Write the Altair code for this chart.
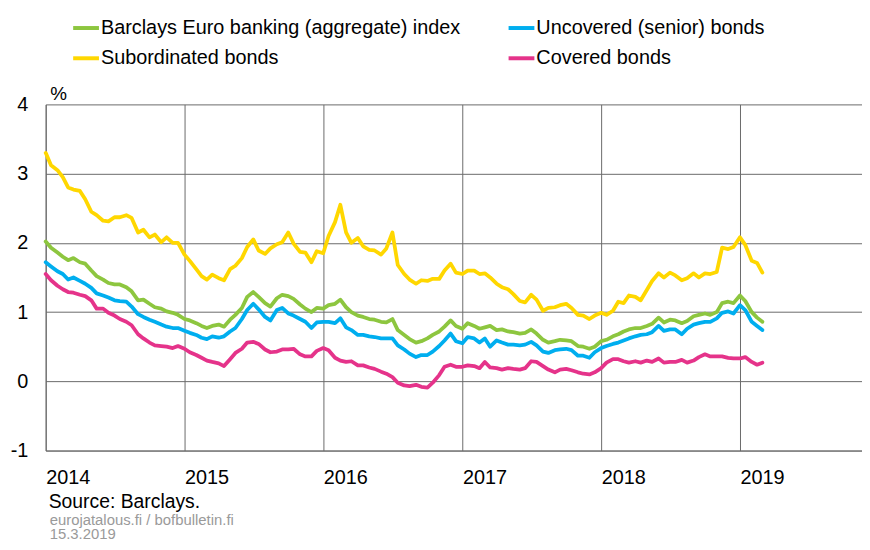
import altair as alt
import pandas as pd

# semi-monthly observation dates (1st and 15th of each month), Jan 2014 .. Mar 2019
dates = pd.date_range("2014-01-01", "2019-03-01", freq="SMS")

# legend is laid out column by column: column 1 = first two, column 2 = last two
series_names = [
    "Barclays Euro banking (aggregate) index",
    "Subordinated bonds",
    "Uncovered (senior) bonds",
    "Covered bonds",
]
series_colors = ["#8DC63F", "#FFD700", "#00AEEF", "#E5338A"]

aggregate = [
    2.02, 1.93, 1.86, 1.80, 1.75, 1.78, 1.72, 1.70, 1.60, 1.52, 1.47, 1.42,
    1.40, 1.40, 1.36, 1.30, 1.17, 1.18, 1.12, 1.07, 1.05, 1.01, 0.99, 0.96,
    0.90, 0.88, 0.84, 0.80, 0.77, 0.80, 0.82, 0.79, 0.89, 0.96, 1.06, 1.22,
    1.29, 1.22, 1.13, 1.08, 1.20, 1.25, 1.23, 1.19, 1.11, 1.05, 1.00, 1.06,
    1.05, 1.10, 1.12, 1.18, 1.07, 1.00, 0.95, 0.93, 0.90, 0.89, 0.86, 0.85,
    0.90, 0.74, 0.67, 0.61, 0.56, 0.58, 0.62, 0.67, 0.72, 0.79, 0.88, 0.80,
    0.76, 0.84, 0.80, 0.76, 0.78, 0.80, 0.74, 0.75, 0.72, 0.71, 0.69, 0.70,
    0.75, 0.69, 0.60, 0.56, 0.58, 0.60, 0.59, 0.58, 0.51, 0.50, 0.47, 0.50,
    0.58, 0.60, 0.65, 0.68, 0.72, 0.75, 0.77, 0.77, 0.80, 0.83, 0.92, 0.85,
    0.89, 0.88, 0.84, 0.87, 0.94, 0.96, 0.98, 0.96, 1.00, 1.13, 1.15, 1.13,
    1.24, 1.16, 1.00, 0.92, 0.86,
]
senior = [
    1.72, 1.66, 1.59, 1.55, 1.47, 1.50, 1.45, 1.41, 1.35, 1.27, 1.24, 1.21,
    1.17, 1.16, 1.15, 1.08, 0.97, 0.93, 0.89, 0.86, 0.82, 0.79, 0.77, 0.77,
    0.73, 0.70, 0.67, 0.63, 0.61, 0.65, 0.63, 0.65, 0.72, 0.77, 0.90, 1.03,
    1.12, 1.04, 0.93, 0.88, 1.03, 1.06, 0.98, 0.95, 0.90, 0.86, 0.77, 0.85,
    0.86, 0.86, 0.84, 0.91, 0.78, 0.74, 0.67, 0.67, 0.65, 0.64, 0.62, 0.62,
    0.62, 0.52, 0.46, 0.40, 0.35, 0.38, 0.38, 0.43, 0.51, 0.59, 0.69, 0.58,
    0.55, 0.64, 0.62, 0.56, 0.62, 0.50, 0.59, 0.56, 0.53, 0.53, 0.52, 0.53,
    0.57, 0.52, 0.43, 0.41, 0.45, 0.46, 0.47, 0.45, 0.37, 0.37, 0.34, 0.42,
    0.48, 0.51, 0.54, 0.56, 0.59, 0.62, 0.65, 0.67, 0.68, 0.71, 0.80, 0.73,
    0.75, 0.75, 0.68, 0.76, 0.82, 0.84, 0.86, 0.86, 0.91, 0.99, 1.01, 0.98,
    1.10, 1.03, 0.86, 0.80, 0.74,
]
subordinated = [
    3.30, 3.12, 3.05, 2.95, 2.80, 2.77, 2.75, 2.63, 2.45, 2.40, 2.32, 2.31,
    2.37, 2.37, 2.40, 2.36, 2.15, 2.19, 2.08, 2.12, 2.01, 2.08, 2.00, 2.00,
    1.83, 1.74, 1.62, 1.52, 1.47, 1.54, 1.49, 1.46, 1.62, 1.67, 1.78, 1.94,
    2.05, 1.89, 1.84, 1.92, 1.98, 2.01, 2.15, 1.99, 1.87, 1.86, 1.72, 1.88,
    1.85, 2.10, 2.30, 2.55, 2.15, 2.00, 2.07, 1.95, 1.90, 1.89, 1.83, 1.92,
    2.15, 1.68, 1.55, 1.47, 1.41, 1.46, 1.45, 1.48, 1.48, 1.60, 1.70, 1.57,
    1.55, 1.60, 1.60, 1.55, 1.56, 1.50, 1.41, 1.36, 1.33, 1.26, 1.16, 1.14,
    1.25, 1.18, 1.02, 1.06, 1.07, 1.10, 1.12, 1.06, 0.96, 0.95, 0.90, 0.95,
    0.99, 0.96, 1.02, 1.15, 1.13, 1.24, 1.22, 1.17, 1.32, 1.45, 1.56, 1.50,
    1.57, 1.53, 1.46, 1.49, 1.56, 1.50, 1.56, 1.55, 1.58, 1.93, 1.91, 1.94,
    2.08, 1.97, 1.74, 1.71, 1.57,
]
covered = [
    1.55, 1.46, 1.38, 1.33, 1.29, 1.28, 1.25, 1.23, 1.17, 1.05, 1.05, 0.99,
    0.95, 0.90, 0.86, 0.81, 0.68, 0.62, 0.56, 0.52, 0.51, 0.50, 0.48, 0.51,
    0.47, 0.42, 0.38, 0.34, 0.30, 0.28, 0.26, 0.22, 0.32, 0.41, 0.47, 0.56,
    0.57, 0.54, 0.46, 0.42, 0.43, 0.46, 0.46, 0.47, 0.39, 0.36, 0.36, 0.44,
    0.48, 0.45, 0.34, 0.30, 0.28, 0.29, 0.23, 0.23, 0.20, 0.18, 0.14, 0.11,
    0.06, -0.02, -0.06, -0.07, -0.05, -0.08, -0.09, -0.02, 0.09, 0.21, 0.24, 0.21,
    0.21, 0.23, 0.22, 0.19, 0.28, 0.20, 0.19, 0.17, 0.19, 0.18, 0.17, 0.19,
    0.29, 0.28, 0.22, 0.17, 0.13, 0.17, 0.18, 0.16, 0.13, 0.11, 0.10, 0.13,
    0.19, 0.27, 0.32, 0.32, 0.29, 0.27, 0.29, 0.27, 0.30, 0.28, 0.33, 0.27,
    0.28, 0.28, 0.31, 0.27, 0.30, 0.35, 0.39, 0.36, 0.36, 0.36, 0.34, 0.33,
    0.33, 0.35, 0.28, 0.24, 0.27,
]

series_values = {
    "Barclays Euro banking (aggregate) index": aggregate,
    "Uncovered (senior) bonds": senior,
    "Subordinated bonds": subordinated,
    "Covered bonds": covered,
}

year_ticks = [2014, 2015, 2016, 2017, 2018, 2019]
y_ticks = [-1, 0, 1, 2, 3, 4]
source_text = ["Source: Barclays."]
site_text = ["eurojatalous.fi / bofbulletin.fi"]
date_text = ["15.3.2019"]

FONT = "Liberation Sans, Arial, sans-serif"

frames = []
for name, vals in series_values.items():
    assert len(vals) == len(dates), (name, len(vals), len(dates))
    frames.append(pd.DataFrame({"date": dates, "value": vals, "series": name}))
df = pd.concat(frames, ignore_index=True)

lines = alt.Chart(df).mark_line(strokeWidth=3.8, strokeJoin="round", strokeCap="round").encode(
    x=alt.X(
        "date:T",
        scale=alt.Scale(domain=[alt.DateTime(year=2014, month=1, date=1),
                                alt.DateTime(year=2019, month=11, date=18)]),
        axis=alt.Axis(
            values=[alt.DateTime(year=y, month=1, date=1) for y in year_ticks],
            format="%Y", title=None, labelAlign="left", labelBaseline="top",
            labelPadding=17, ticks=False, grid=True, labelFlush=False,
            labelOverlap=False, labelBound=False,
        ),
    ),
    y=alt.Y(
        "value:Q",
        scale=alt.Scale(domain=[-1, 4], nice=False, zero=False),
        axis=alt.Axis(
            values=y_ticks, title="%", titleAngle=0, titleAlign="left",
            titleBaseline="alphabetic", titleX=4, titleY=-5, titleFontSize=19,
            titleFontWeight="normal", titleFont=FONT, titleColor="#000000",
            labelPadding=18, ticks=False, grid=True,
            labelExpr="datum.value < 0 ? '-' + (-datum.value) : '' + datum.value",
        ),
    ),
    color=alt.Color(
        "series:N",
        scale=alt.Scale(domain=series_names, range=series_colors),
        legend=alt.Legend(
            title=None, orient="none", legendX=25.7, legendY=-92, columns=2,
            symbolType="stroke", symbolSize=676, symbolStrokeWidth=4,
            labelFontSize=20, labelFont=FONT, labelColor="#000000",
            labelOffset=0, labelLimit=600, columnPadding=40, rowPadding=5.5,
            padding=0,
        ),
    ),
)

src = alt.Chart(pd.DataFrame({"t": source_text})).mark_text(
    align="left", baseline="alphabetic", fontSize=19.5, font=FONT, color="#000000"
).encode(text="t:N", x=alt.value(3), y=alt.value(407))

site = alt.Chart(pd.DataFrame({"t": site_text})).mark_text(
    align="left", baseline="alphabetic", fontSize=15, font=FONT, color="#9a9a9a"
).encode(text="t:N", x=alt.value(4), y=alt.value(424))

stamp = alt.Chart(pd.DataFrame({"t": date_text})).mark_text(
    align="left", baseline="alphabetic", fontSize=15, font=FONT, color="#9a9a9a"
).encode(text="t:N", x=alt.value(4), y=alt.value(438.5))

chart = alt.layer(lines, src, site, stamp).properties(
    width=823, height=349,
    autosize=alt.AutoSizeParams(type="none"),
    padding={"left": 38, "top": 95, "right": 0, "bottom": 90},
).configure_view(strokeWidth=0).configure_axis(
    labelFont=FONT, labelFontSize=20, labelColor="#000000",
    gridColor="#6a6a6a", gridWidth=1, domainColor="#6a6a6a", domainWidth=1,
)

chart.save("out.html", embed_options={"renderer": "svg", "actions": False})
